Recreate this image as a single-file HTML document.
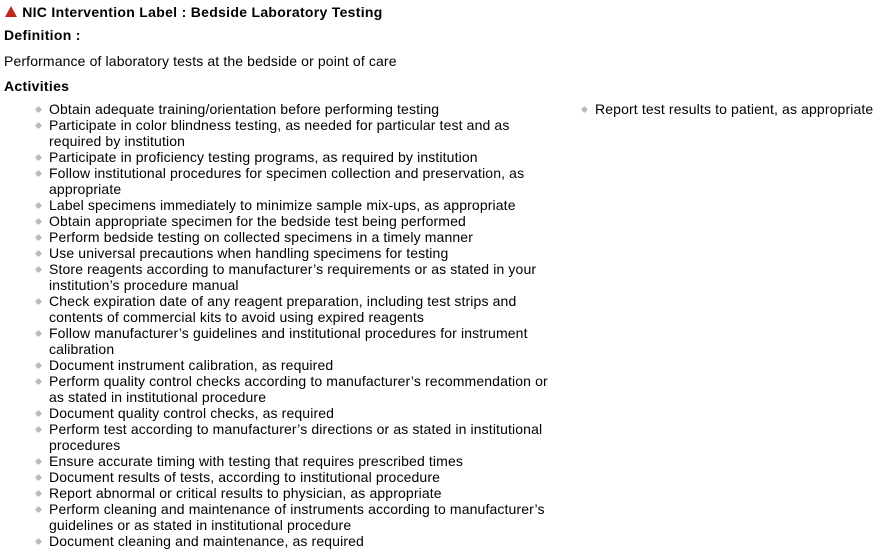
<!DOCTYPE html>
<html><head><meta charset="utf-8"><style>
body{margin:0;width:880px;height:557px;background:#fff;font-family:"Liberation Sans",Arial,sans-serif;font-size:14px;color:#000;position:relative;overflow:hidden}
.a{position:absolute;white-space:nowrap;line-height:16px}
b{font-weight:bold}
ul{position:absolute;margin:0;padding:0;list-style:none;line-height:16px;letter-spacing:0.13px}
li{position:relative;padding-left:0;white-space:nowrap}
li::before{content:"";position:absolute;left:-13px;top:6px;width:5px;height:5px;background:#bbb;transform:rotate(45deg);border-radius:1px}
</style></head><body>
<div class="a" style="left:4px;top:4px;letter-spacing:0.3px"><svg width="14" height="13" style="vertical-align:-1px"><polygon points="7,1 13,12 1,12" fill="#c0281c"/></svg> <b>NIC Intervention Label : Bedside Laboratory Testing</b></div>
<div class="a" style="left:4px;top:27px;letter-spacing:0.3px"><b>Definition :</b></div>
<div class="a" style="left:4px;top:53px;letter-spacing:0.13px">Performance of laboratory tests at the bedside or point of care</div>
<div class="a" style="left:4px;top:78px;letter-spacing:0.3px"><b>Activities</b></div>
<ul style="left:49px;top:101px">
<li>Obtain adequate training/orientation before performing testing</li>
<li>Participate in color blindness testing, as needed for particular test and as<br>required by institution</li>
<li>Participate in proficiency testing programs, as required by institution</li>
<li>Follow institutional procedures for specimen collection and preservation, as<br>appropriate</li>
<li>Label specimens immediately to minimize sample mix-ups, as appropriate</li>
<li>Obtain appropriate specimen for the bedside test being performed</li>
<li>Perform bedside testing on collected specimens in a timely manner</li>
<li>Use universal precautions when handling specimens for testing</li>
<li>Store reagents according to manufacturer’s requirements or as stated in your<br>institution’s procedure manual</li>
<li>Check expiration date of any reagent preparation, including test strips and<br>contents of commercial kits to avoid using expired reagents</li>
<li>Follow manufacturer’s guidelines and institutional procedures for instrument<br>calibration</li>
<li>Document instrument calibration, as required</li>
<li>Perform quality control checks according to manufacturer’s recommendation or<br>as stated in institutional procedure</li>
<li>Document quality control checks, as required</li>
<li>Perform test according to manufacturer’s directions or as stated in institutional<br>procedures</li>
<li>Ensure accurate timing with testing that requires prescribed times</li>
<li>Document results of tests, according to institutional procedure</li>
<li>Report abnormal or critical results to physician, as appropriate</li>
<li>Perform cleaning and maintenance of instruments according to manufacturer’s<br>guidelines or as stated in institutional procedure</li>
<li>Document cleaning and maintenance, as required</li>
</ul>
<ul style="left:595px;top:101px">
<li>Report test results to patient, as appropriate</li>
</ul>
</body></html>
